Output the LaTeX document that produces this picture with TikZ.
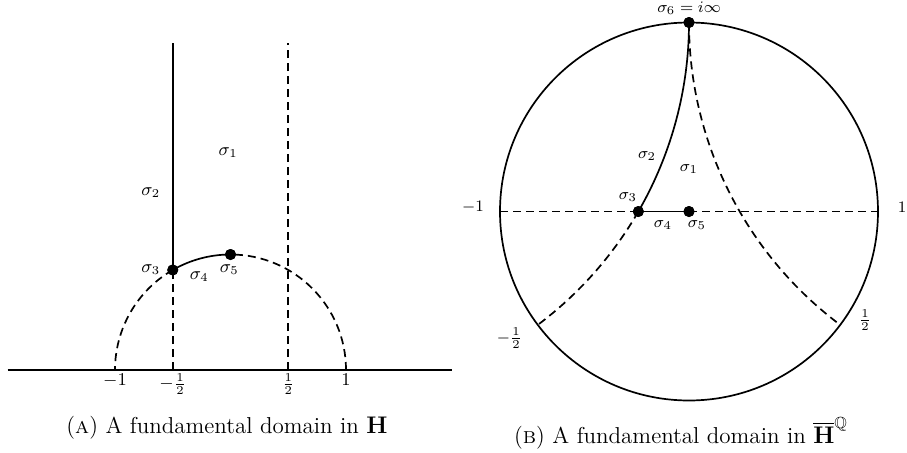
\documentclass[tikz,border=0pt]{standalone}
\usepackage{amsmath,amssymb}
\begin{document}
\begin{tikzpicture}[
  ln/.style={line width=0.85pt},
  dsh/.style={line width=0.85pt, dash pattern=on 4pt off 2.5pt},
  dotnode/.style={circle, fill=black, inner sep=0pt, minimum size=5.5pt},
  lbl/.style={inner sep=1.5pt, font=\small},
  rlbl/.style={inner sep=1.5pt, font=\footnotesize},
  captxt/.style={inner sep=0pt, font=\fontsize{11.5}{14}\selectfont}
]
\useasboundingbox (0pt,0pt) rectangle (453.5pt,226pt);
% ---------- Left panel ----------
\begin{scope}[shift={(115.25pt,41pt)}, x=57.75pt, y=57.75pt]
  \coordinate (xl) at (-1.93,0);
  \coordinate (xr) at (1.92,0);
  \coordinate (m1) at (-1,0);
  \coordinate (p1) at (1,0);
  \coordinate (mh) at (-0.5,0);
  \coordinate (ph) at (0.5,0);
  \coordinate (mtop) at (-0.5,2.83);
  \coordinate (ptop) at (0.5,2.83);
  \node[dotnode] (s3) at (120:1) {};
  \node[dotnode] (s5) at (90:1) {};
  \draw[ln] (xl) -- (xr);
  \draw[ln] (s3.center) -- (mtop);
  \draw[dsh] (mh) -- (s3.center);
  \draw[dsh] (ph) -- (ptop);
  \draw[dsh] (p1) arc[start angle=0, end angle=90, radius=1];
  \draw[ln] (s5.center) arc[start angle=90, end angle=120, radius=1];
  \draw[dsh] (s3.center) arc[start angle=120, end angle=180, radius=1];
  \node[dotnode] at (s3) {};
  \node[dotnode] at (s5) {};
  \node[lbl] (l1) at (-0.02,1.88) {$\sigma_1$};
  \node[lbl] (l2) at (-0.69,1.54) {$\sigma_2$};
  \node[lbl] (l3) at (-0.69,0.87) {$\sigma_3$};
  \node[lbl] (l4) at (-0.27,0.81) {$\sigma_4$};
  \node[lbl] (l5) at (-0.01,0.865) {$\sigma_5$};
  \node[lbl, anchor=north] (t1) at (m1) {$-1$};
  \node[lbl, anchor=north] (t2) at (mh) {$-\frac12$};
  \node[lbl, anchor=north] (t3) at (ph) {$\frac12$};
  \node[lbl, anchor=north] (t4) at (p1) {$1$};
\end{scope}
\node[captxt] (capA) at (113.5pt,12pt) {(\textsc{a}) A fundamental domain in $\mathbf{H}$};
% ---------- Right panel ----------
\begin{scope}[shift={(344.5pt,120.25pt)}, x=94.5pt, y=94.5pt]
  \coordinate (L) at (-1,0);
  \coordinate (R) at (1,0);
  \node[dotnode] (r6) at (0,1) {};
  \node[dotnode] (r3) at ({-(2-sqrt(3))},0) {};
  \node[dotnode] (r5) at (0,0) {};
  \draw[ln] (0,0) circle[radius=1];
  \draw[dsh] (L) -- (r3.center);
  \draw[ln] (r3.center) -- (r5.center);
  \draw[dsh] (r5.center) -- (R);
  \draw[ln] (r6.center) arc[start angle=0, end angle=-30, radius=2];
  \draw[dsh] (r3.center) arc[start angle=-30, end angle=-53.13, radius=2];
  \draw[dsh] (r6.center) arc[start angle=180, end angle=233.13, radius=2];
  \node[dotnode] at (r6) {};
  \node[dotnode] at (r3) {};
  \node[dotnode] at (r5) {};
  \node[rlbl, inner sep=0.3pt] (k6) at (0,1.075) {$\sigma_6 = i\infty$};
  \node[rlbl] (k1) at (0,0.225) {$\sigma_1$};
  \node[rlbl] (k2) at (-0.222,0.294) {$\sigma_2$};
  \node[rlbl] (k3) at (-0.323,0.077) {$\sigma_3$};
  \node[rlbl] (k4) at (-0.138,-0.071) {$\sigma_4$};
  \node[rlbl] (k5) at (0.042,-0.071) {$\sigma_5$};
  \node[rlbl] (km1) at (-1.143,0.024) {$-1$};
  \node[rlbl] (kp1) at (1.127,0.024) {$1$};
  \node[rlbl] (kmh) at (-0.95,-0.67) {$-\frac12$};
  \node[rlbl] (kph) at (0.931,-0.574) {$\frac12$};
\end{scope}
\node[captxt] (capB) at (340.5pt,9.5pt) {(\textsc{b}) A fundamental domain in $\overline{\mathbf{H}}^{\mathbb{Q}}$};
\end{tikzpicture}
\end{document}
